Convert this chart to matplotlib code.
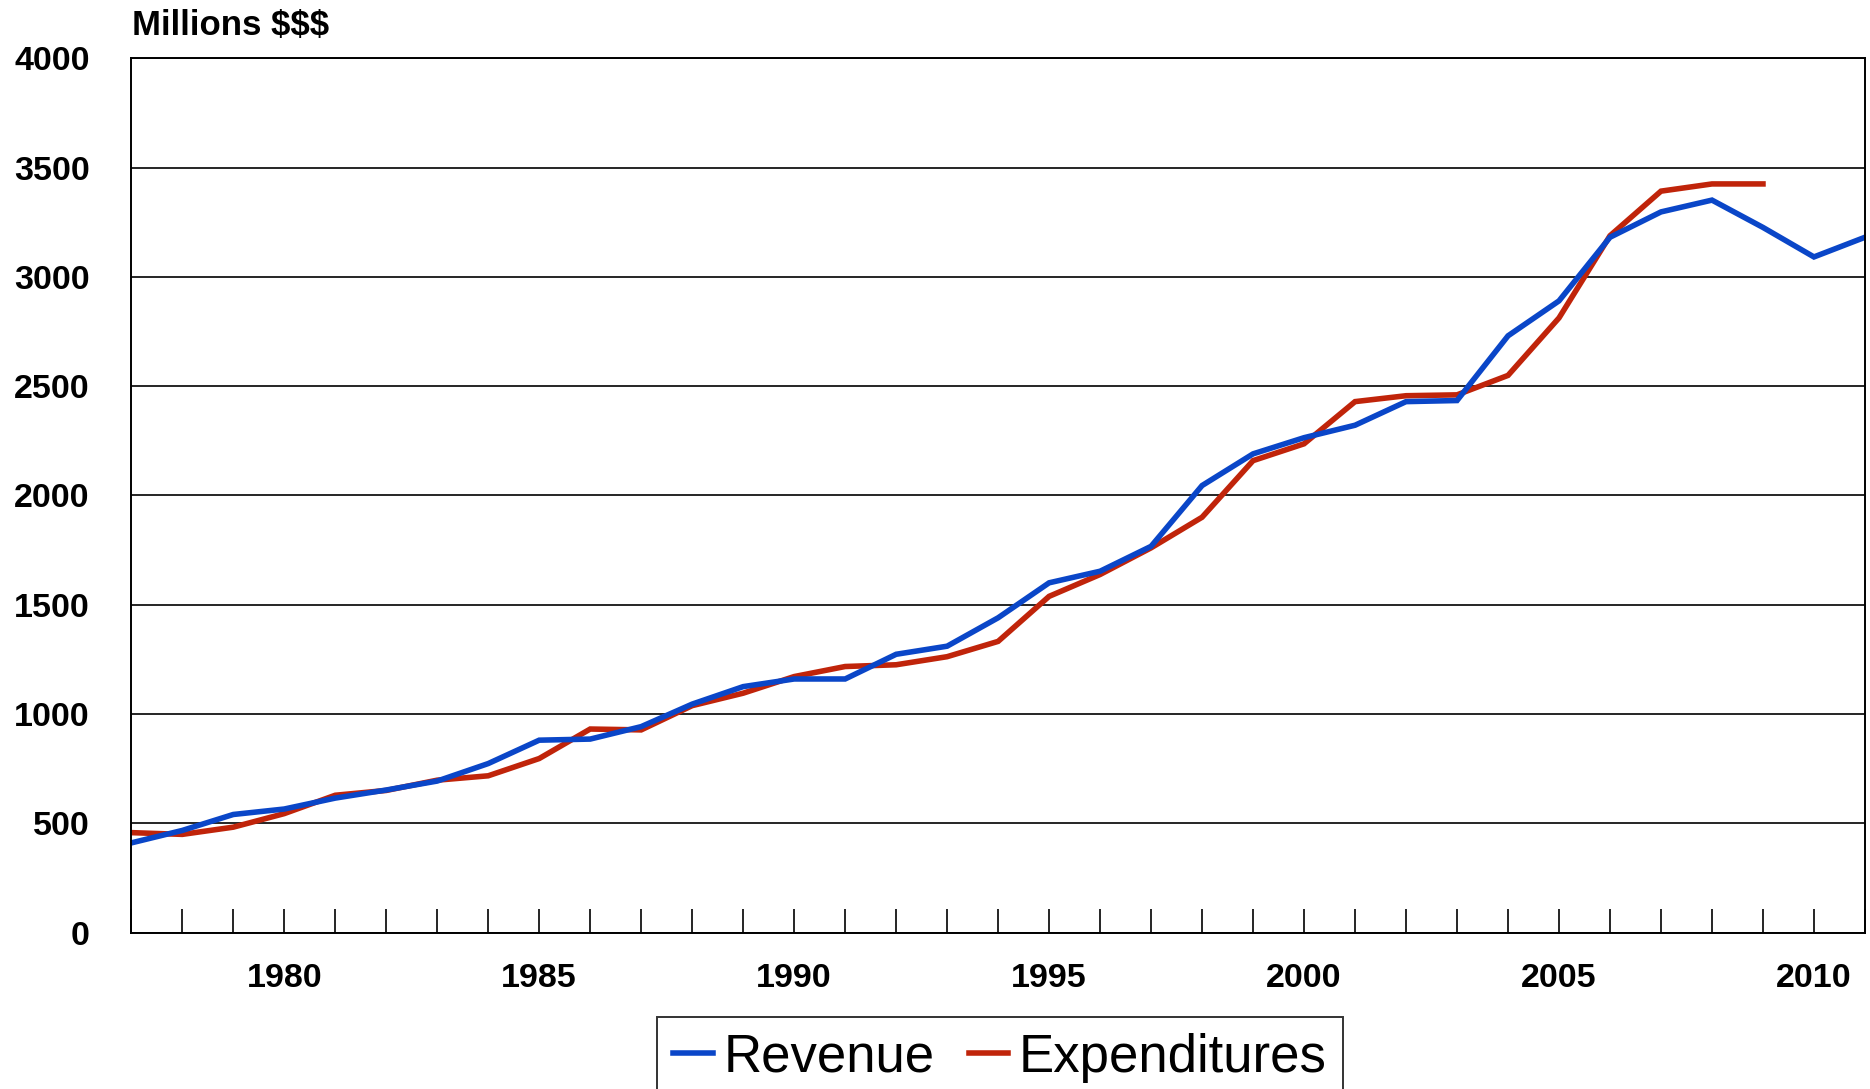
import matplotlib
matplotlib.use("Agg")
import matplotlib.pyplot as plt
from matplotlib import font_manager as fm
from matplotlib.ticker import MultipleLocator, FuncFormatter

# ---- data ----
years_revenue = [1977, 1978, 1979, 1980, 1981, 1982, 1983, 1984, 1985, 1986,
                 1987, 1988, 1989, 1990, 1991, 1992, 1993, 1994, 1995, 1996,
                 1997, 1998, 1999, 2000, 2001, 2002, 2003, 2004, 2005, 2006,
                 2007, 2008, 2009, 2010, 2011]
revenue = [410, 467, 540, 565, 615, 652, 693, 773, 880, 885,
           942, 1045, 1125, 1160, 1160, 1273, 1310, 1440, 1600, 1653,
           1767, 2045, 2190, 2264, 2321, 2429, 2434, 2730, 2890, 3181,
           3297, 3351, 3226, 3091, 3181]

years_expend = [1977, 1978, 1979, 1980, 1981, 1982, 1983, 1984, 1985, 1986,
                1987, 1988, 1989, 1990, 1991, 1992, 1993, 1994, 1995, 1996,
                1997, 1998, 1999, 2000, 2001, 2002, 2003, 2004, 2005, 2006,
                2007, 2008, 2009]
expenditures = [457, 449, 482, 544, 628, 650, 697, 717, 796, 931,
                927, 1038, 1095, 1171, 1217, 1225, 1262, 1332, 1538, 1638,
                1760, 1900, 2159, 2236, 2429, 2456, 2460, 2549, 2812, 3188,
                3392, 3425, 3425]

series_labels = ["Revenue", "Expenditures"]
y_label = "Millions $$$"

# ---- fonts ----
names = {f.name for f in fm.fontManager.ttflist}
bold_family = "Liberation Sans" if "Liberation Sans" in names else "DejaVu Sans"
if "Liberation Sans Narrow" in names:
    leg_family, leg_size = "Liberation Sans Narrow", 46.5
else:
    leg_family, leg_size = bold_family, 38

BLUE = "#0A46C8"
RED = "#C0240A"

fig = plt.figure(figsize=(18.70, 10.89), dpi=100)
ax = fig.add_axes([0.0702, 0.1437, 0.9973 - 0.0702, 0.9465 - 0.1437])

l_exp, = ax.plot(years_expend, expenditures, color=RED, lw=4.0,
                 solid_joinstyle="miter", zorder=3, label=series_labels[1])
l_rev, = ax.plot(years_revenue, revenue, color=BLUE, lw=4.0,
                 solid_joinstyle="miter", zorder=4, label=series_labels[0])

ax.set_xlim(1977, 2011)
ax.set_ylim(0, 4000)

ax.yaxis.set_major_locator(MultipleLocator(500))
ax.xaxis.set_major_locator(MultipleLocator(1))
ax.xaxis.set_major_formatter(FuncFormatter(lambda v, p: f"{int(round(v))}" if int(round(v)) % 5 == 0 else ""))

ax.grid(axis="y", color="black", lw=1.2, zorder=1)
ax.set_axisbelow(True)

for s in ax.spines.values():
    s.set_color("black")
    s.set_linewidth(1.4)
    s.set_zorder(5)

ax.tick_params(axis="x", direction="in", length=17, width=1.2, color="black",
               pad=22, labelsize=24.5)
ax.tick_params(axis="y", length=0, pad=30, labelsize=24.5)
for lab in ax.get_xticklabels() + ax.get_yticklabels():
    lab.set_fontfamily(bold_family)
    lab.set_fontweight("bold")

fig.text(0.0706, 1 - 35 / 1089, y_label, fontsize=25, fontweight="bold",
         family=bold_family, ha="left", va="baseline")

leg = fig.legend(handles=[l_rev, l_exp], labels=series_labels,
                 loc="upper center", bbox_to_anchor=(0.5347, 1 - 1016.7 / 1089),
                 bbox_transform=fig.transFigure, ncol=2,
                 prop={"family": leg_family, "size": leg_size},
                 frameon=True, fancybox=False, edgecolor="black",
                 handlelength=0.75, handletextpad=0.2, columnspacing=0.65,
                 borderpad=0.3, borderaxespad=0)
leg.get_frame().set_linewidth(1.4)
for h in leg.legend_handles:
    h.set_linewidth(4)

fig.savefig("out.png", dpi=100, facecolor="white")
